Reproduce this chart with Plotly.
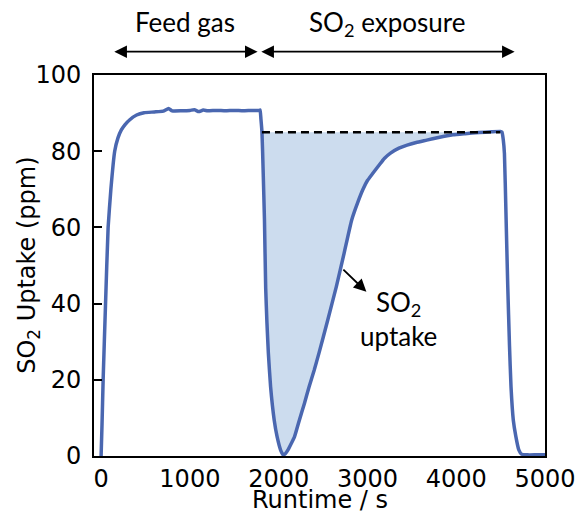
import plotly.graph_objects as go

# ---- data ----
time_s = [0, 10, 23, 50, 79, 110, 153, 190, 228, 270, 320, 400, 484, 600, 700, 760, 800,
          900, 1000, 1050, 1100, 1150, 1200, 1300, 1400, 1500, 1600, 1700, 1780, 1791,
          1800, 1812, 1825, 1840, 1854, 1868, 1884, 1909, 1950, 1983, 2023, 2050, 2075,
          2105, 2140, 2178, 2233, 2290, 2343, 2400, 2454, 2553, 2649, 2737, 2822, 2890,
          2950, 3000, 3061, 3130, 3190, 3260, 3355, 3447, 3550, 3668, 3800, 3962, 4100,
          4257, 4400, 4496, 4515, 4530, 4543, 4560, 4580, 4600, 4617, 4643, 4672, 4705,
          4735, 4800, 4900, 5000]
so2_ppm = [0, 8, 20, 40, 60, 70, 80, 83.5, 85.6, 87.0, 88.2, 89.5, 90.1, 90.3, 90.5, 91.2, 90.6,
           90.6, 90.7, 90.9, 90.4, 90.8, 90.6, 90.7, 90.6, 90.7, 90.6, 90.7, 90.7, 90.8,
           88.5, 85.0, 75, 62, 44, 35, 27, 18.2, 9.4, 5.0, 1.5, 0.3, 0.6,
           1.6, 3.2, 5.0, 9.4, 13.8, 18.2, 22.5, 27.0, 35.7, 44.4, 53.2, 61.9, 66.5,
           70.0, 72.3, 74.2, 76.3, 78.1, 79.5, 80.8, 81.6, 82.3, 82.9, 83.6, 84.3, 84.6,
           84.9, 85.1, 85.2, 85.0, 83.0, 79.4, 64, 45, 29, 18.2, 9.4, 5.1, 1.6,
           0.5, 0.3, 0.3, 0.3]

baseline_ppm = 85.0
fill_start, fill_end = 1812, 4496

x_ticks = [0, 1000, 2000, 3000, 4000, 5000]
y_ticks = [0, 20, 40, 60, 80, 100]

feed_span = [132, 1763]
exposure_span = [1788, 4658]

LINE = "#4a67b0"
FILL = "#ccdcee"
ANN_FONT = "Lato"
FS = 24

# ---- fill polygon from the curve ----
fx = [t for t, v in zip(time_s, so2_ppm) if fill_start <= t <= fill_end]
fy = [v for t, v in zip(time_s, so2_ppm) if fill_start <= t <= fill_end]
poly_x = fx + [fill_end, fill_start]
poly_y = fy + [baseline_ppm, baseline_ppm]

fig = go.Figure()
fig.add_trace(go.Scatter(x=poly_x, y=poly_y, fill="toself", fillcolor=FILL,
                         mode="none", hoverinfo="skip", showlegend=False))
fig.add_trace(go.Scatter(x=time_s, y=so2_ppm, mode="lines",
                         line=dict(color=LINE, width=3.5, shape="spline", smoothing=0.4),
                         showlegend=False, cliponaxis=False))
fig.add_trace(go.Scatter(x=[fill_start, fill_end], y=[baseline_ppm, baseline_ppm],
                         mode="lines", line=dict(color="black", width=2.5, dash="8px,5px"),
                         showlegend=False))

SPAN_Y = (456 - 51.7) / 381  # paper coords above plot
anns = []
for span in (feed_span, exposure_span):
    anns.append(dict(x=span[1], y=SPAN_Y, ax=span[0], ay=0, xref="x", yref="paper",
                     axref="x", ayref="pixel", text="", showarrow=True,
                     arrowside="end+start", arrowhead=2, arrowsize=1.4,
                     arrowwidth=1.8, arrowcolor="black"))
anns.append(dict(x=(feed_span[0] + feed_span[1]) / 2, y=1.0, xref="x", yref="paper",
                 yshift=71, text="Feed gas", showarrow=False,
                 font=dict(family=ANN_FONT, size=26, color="black")))
anns.append(dict(x=(exposure_span[0] + exposure_span[1]) / 2, y=1.0, xref="x",
                 yref="paper", yshift=71, text="SO<sub>2</sub> exposure", showarrow=False,
                 font=dict(family=ANN_FONT, size=26, color="black")))
# SO2 uptake arrow + label
anns.append(dict(x=2988, y=43.1, ax=2712, ay=49.3, xref="x", yref="y", axref="x",
                 ayref="y", text="", showarrow=True, arrowhead=2, arrowsize=1.4,
                 arrowwidth=1.8, arrowcolor="black"))
anns.append(dict(x=3350, y=36, xref="x", yref="y", text="SO<sub>2</sub><br>uptake",
                 showarrow=False, align="center",
                 font=dict(family=ANN_FONT, size=26, color="black")))
# axis titles
anns.append(dict(x=(27 - 94) / 460, y=0.5, xref="paper", yref="paper",
                 text="SO<sub>2</sub> Uptake (ppm)", textangle=-90, showarrow=False,
                 xanchor="center", yanchor="middle",
                 font=dict(family="DejaVu Sans", size=FS, color="black")))
anns.append(dict(x=0.502, y=(456 - 500) / 381, xref="paper", yref="paper",
                 text="Runtime / s", showarrow=False, xanchor="center", yanchor="middle",
                 font=dict(family="DejaVu Sans", size=FS, color="black")))

fig.update_layout(
    width=588, height=514,
    margin=dict(l=94, r=34, t=75, b=58),
    paper_bgcolor="white", plot_bgcolor="white",
    font=dict(family="DejaVu Sans", size=FS, color="black"),
    annotations=anns,
)
fig.update_xaxes(range=[-80, 5000], tickvals=x_ticks, ticks="", showgrid=False,
                 zeroline=False, showline=True, linecolor="black", linewidth=2,
                 mirror=True, tickfont=dict(size=FS))
fig.update_yaxes(range=[0, 100], tickvals=y_ticks, ticks="inside", ticklen=8,
                 tickwidth=2, tickcolor="black", showgrid=False, zeroline=False,
                 showline=True, linecolor="black", linewidth=2, mirror=True,
                 ticklabelstandoff=6, tickfont=dict(size=FS))

fig.write_html("out.html")
